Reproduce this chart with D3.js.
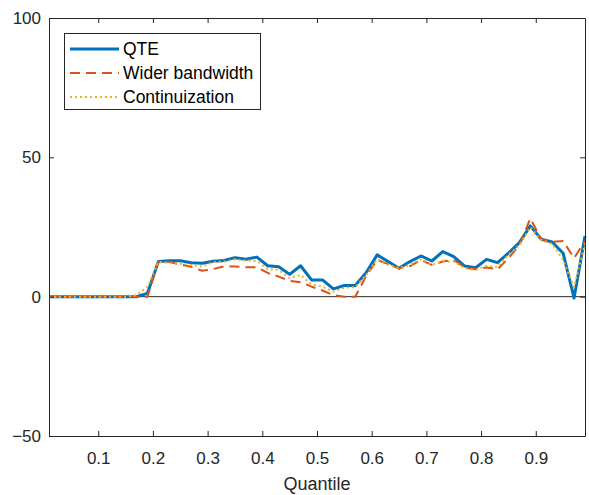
<!DOCTYPE html>
<html>
<head>
<meta charset="utf-8">
<script src="https://cdn.jsdelivr.net/npm/d3@7"></script>
<style>
  html, body { margin: 0; padding: 0; background: #fff; }
  svg { display: block; font-family: "Liberation Sans", Arial, Helvetica, sans-serif; }
</style>
</head>
<body>
<svg id="chart" width="589" height="495"></svg>
<script>
// Quantile grid: 0.01, 0.03, ..., 0.99
const quantiles = d3.range(50).map(i => +(0.01 + 0.02 * i).toFixed(2));

// Quantile treatment effect estimates
const qte = [
  0, 0, 0, 0, 0, 0, 0, 0, 0, 1.2,
  12.6, 12.9, 12.9, 12.2, 12.0, 12.7, 13.0, 14.0, 13.4, 14.2,
  11.1, 10.7, 8.0, 11.1, 6.0, 6.0, 2.8, 4.0, 4.0, 8.7,
  15.0, 12.6, 10.2, 12.6, 14.6, 12.8, 16.2, 14.4, 11.0, 10.4,
  13.4, 12.2, 15.6, 19.4, 25.4, 20.6, 19.6, 15.6, -0.5, 21.8
];

// Estimates with a wider bandwidth
const widerBandwidth = [
  0, 0, 0, 0, 0, 0, 0, 0, 0, 0,
  12.6, 12.4, 11.6, 10.7, 9.3, 9.9, 10.9, 10.8, 10.6, 10.6,
  8.5, 7.2, 5.7, 5.2, 3.6, 2.2, 0.5, 0, 0, 7.5,
  13.2, 11.7, 10.2, 11.0, 13.2, 11.4, 12.6, 13.2, 10.5, 9.8,
  10.5, 9.8, 13.8, 18.5, 28.1, 20.6, 19.7, 20.0, 13.8, 20.0
];

// Estimates using continuization
const continuization = [
  0, 0, 0, 0, 0, 0, 0, 0, 0.5, 3.5,
  12.4, 12.2, 11.8, 11.4, 10.8, 12.4, 12.6, 13.4, 13.0, 12.8,
  9.9, 9.6, 6.6, 7.8, 4.4, 3.6, 1.8, 3.2, 3.4, 7.8,
  13.4, 11.4, 10.2, 11.4, 13.4, 11.4, 12.6, 12.6, 10.2, 9.6,
  11.0, 10.6, 15.0, 18.5, 24.9, 20.3, 18.9, 13.2, 3.4, 19.2
];

const xTicks = [0.1, 0.2, 0.3, 0.4, 0.5, 0.6, 0.7, 0.8, 0.9];
const yTicks = [-50, 0, 50, 100];
const seriesNames = ["QTE", "Wider bandwidth", "Continuization"];

const svg = d3.select("#chart");
const plotLeft = 49, plotRight = 585, plotTop = 18, plotBottom = 436;
const axisColor = "#262626";
const fontSize = 17;

const x = d3.scaleLinear().domain([0.01, 0.99]).range([plotLeft, plotRight]);
const y = d3.scaleLinear().domain([-50, 100]).range([plotBottom, plotTop]);

// Zero reference line
svg.append("line")
  .attr("x1", x(0.01)).attr("x2", x(0.99))
  .attr("y1", y(0)).attr("y2", y(0))
  .attr("stroke", "#2b2b2b").attr("stroke-width", 1);

const series = [
  { name: seriesNames[0], values: qte, color: "#0072BD", width: 3, dash: null },
  { name: seriesNames[1], values: widerBandwidth, color: "#D95319", width: 2, dash: "10,6" },
  { name: seriesNames[2], values: continuization, color: "#EDB120", width: 2, dash: "2,3" }
];

const line = d3.line()
  .x((d, i) => x(quantiles[i]))
  .y(d => y(d));

series.forEach(s => {
  svg.append("path")
    .datum(s.values)
    .attr("d", line)
    .attr("fill", "none")
    .attr("stroke", s.color)
    .attr("stroke-width", s.width)
    .attr("stroke-dasharray", s.dash)
    .attr("stroke-linejoin", "round");
});

// Axes: ticks point inward, box closed on all sides
const tickLen = 5;
const bottomAxis = d3.axisBottom(x).tickValues(xTicks).tickSizeInner(-tickLen).tickSizeOuter(0)
  .tickPadding(16).tickFormat(d3.format(".1f"));
const topAxis = d3.axisTop(x).tickValues(xTicks).tickSizeInner(-tickLen).tickSizeOuter(0).tickFormat("");
const leftAxis = d3.axisLeft(y).tickValues(yTicks).tickSizeInner(-tickLen).tickSizeOuter(0).tickPadding(8);
const rightAxis = d3.axisRight(y).tickValues(yTicks).tickSizeInner(-tickLen).tickSizeOuter(0).tickFormat("");

function styleAxis(g) {
  g.select(".domain").attr("stroke", axisColor).attr("stroke-width", 1);
  g.selectAll(".tick line").attr("stroke", axisColor).attr("stroke-width", 1);
  g.selectAll(".tick text")
    .attr("fill", axisColor)
    .style("font-size", fontSize + "px")
    .style("font-family", "'Liberation Sans', Arial, sans-serif");
}

svg.append("g").attr("transform", `translate(0,${plotBottom})`).call(bottomAxis).call(styleAxis);
svg.append("g").attr("transform", `translate(0,${plotTop})`).call(topAxis).call(styleAxis);
svg.append("g").attr("transform", `translate(${plotLeft},0)`).call(leftAxis).call(styleAxis);
svg.append("g").attr("transform", `translate(${plotRight},0)`).call(rightAxis).call(styleAxis);

// Axis label
svg.append("text")
  .attr("x", (plotLeft + plotRight) / 2)
  .attr("y", 490)
  .attr("text-anchor", "middle")
  .attr("fill", axisColor)
  .style("font-size", "18px")
  .text("Quantile");

// Legend
const legend = svg.append("g");
legend.append("rect")
  .attr("x", 64.5).attr("y", 33.5)
  .attr("width", 196).attr("height", 76)
  .attr("fill", "#fff")
  .attr("stroke", axisColor).attr("stroke-width", 1);

series.forEach((s, i) => {
  const ly = 49 + i * 24;
  legend.append("line")
    .attr("x1", 70).attr("x2", 119)
    .attr("y1", ly).attr("y2", ly)
    .attr("stroke", s.color)
    .attr("stroke-width", s.width)
    .attr("stroke-dasharray", s.dash);
  legend.append("text")
    .attr("x", 123).attr("y", ly)
    .attr("dy", "0.35em")
    .attr("fill", "#000")
    .style("font-size", "17.5px")
    .text(s.name);
});
</script>
</body>
</html>
